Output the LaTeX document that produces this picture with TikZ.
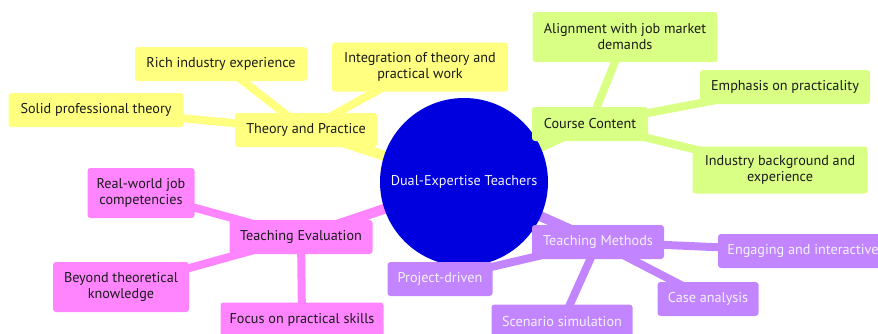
\documentclass[tikz,border=0pt]{standalone}
\usepackage{fontspec}
\setmainfont{PT Sans}
\usetikzlibrary{positioning}
\usetikzlibrary{backgrounds}
\definecolor{rootblue}{HTML}{0000DE}
\definecolor{secyellow}{HTML}{FFFF80}
\definecolor{lineyellow}{HTML}{AAAAFF}
\definecolor{secgreen}{HTML}{D9FF85}
\definecolor{linegreen}{HTML}{CCAAFF}
\definecolor{secpink}{HTML}{FF85FF}
\definecolor{linepink}{HTML}{B8FFB8}
\definecolor{secpurple}{HTML}{C285FF}
\definecolor{linepurple}{HTML}{D6FFB8}
\definecolor{labeldark}{HTML}{1A1A1A}
\definecolor{labellight}{HTML}{F2F2FF}
\newcommand{\mapfont}{\fontsize{14.2}{16}\selectfont}
\tikzset{
  idea/.style={rounded corners=3pt, minimum height=34pt, inner xsep=8pt, inner ysep=4pt,
    align=center, font=\mapfont, text=labeldark},
  underline/.style={append after command={[draw=#1, line width=3pt]
    ([yshift=1.5pt]\tikzlastnode.south west) -- ([yshift=1.5pt]\tikzlastnode.south east)}},
  yellowbox/.style={idea, fill=secyellow, underline=lineyellow},
  greenbox/.style={idea, fill=secgreen, underline=linegreen},
  pinkbox/.style={idea, fill=secpink, underline=linepink},
  purplebox/.style={idea, fill=secpurple, underline=linepurple, text=labellight},
  trunk/.style={draw=#1, line width=10pt},
  twig/.style={draw=#1, line width=8pt}
}

\begin{document}
\begin{tikzpicture}[x=1pt, y=-1pt]
  \useasboundingbox (0,0) rectangle (878,333);
  \clip (0,0) rectangle (878,333);

  % root
  \node[circle, fill=rootblue, minimum size=168pt, inner sep=0pt, font=\mapfont, text=labellight] (ctr) at (464,182) {Dual-Expertise Teachers};

  % theory and practice
  \node[yellowbox, minimum width=142pt] (tp) at (306,130) {Theory and Practice};
  \node[yellowbox, minimum width=172pt] (rich) at (221,64) {Rich industry experience};
  \node[yellowbox, minimum width=175pt] (solid) at (96,110) {Solid professional theory};
  \node[yellowbox, minimum width=176pt, minimum height=49pt] (integ) at (420,67) {Integration of theory and\\practical work};

  % course content
  \node[greenbox, minimum width=116pt] (cc) at (590,124) {Course Content};
  \node[greenbox, minimum width=185pt, minimum height=50pt] (align) at (625,37) {Alignment with job market\\demands};
  \node[greenbox, minimum width=170pt] (emph) at (785,87) {Emphasis on practicality};
  \node[greenbox, minimum width=175pt, minimum height=47pt] (indus) at (780,170) {Industry background and\\experience};

  % teaching evaluation
  \node[pinkbox, minimum width=143pt] (te) at (301,237) {Teaching Evaluation};
  \node[pinkbox, minimum width=107pt, minimum height=50pt] (real) at (141,193) {Real-world job\\competencies};
  \node[pinkbox, minimum width=136pt, minimum height=50pt] (beyond) at (121,287) {Beyond theoretical\\knowledge};
  \node[pinkbox, minimum width=163pt, minimum height=35pt] (focus) at (302,320) {Focus on practical skills};

  % teaching methods
  \node[purplebox, minimum width=132pt] (tm) at (598,242) {Teaching Methods};
  \node[purplebox, minimum width=105pt] (proj) at (440,279) {Project-driven};
  \node[purplebox, minimum width=170pt] (engag) at (803,251) {Engaging and interactive};
  \node[purplebox, minimum width=101pt] (case) at (708,299) {Case analysis};
  \node[purplebox, minimum width=141pt, minimum height=35pt] (scen) at (562,322) {Scenario simulation};

  % branches under the boxes
  \begin{scope}[on background layer]
    \draw[trunk=secyellow] (ctr.center) -- (tp.center);
    \draw[trunk=secgreen] (ctr.center) -- (cc.center);
    \draw[trunk=secpink] (ctr.center) -- (te.center);
    \draw[trunk=secpurple] (ctr.center) -- (tm.center);
    \foreach \leaf in {rich,solid,integ}
      \draw[twig=secyellow] (tp.center) -- (\leaf.center);
    \foreach \leaf in {align,emph,indus}
      \draw[twig=secgreen] (cc.center) -- (\leaf.center);
    \foreach \leaf in {real,beyond,focus}
      \draw[twig=secpink] (te.center) -- (\leaf.center);
    \foreach \leaf in {proj,engag,case,scen}
      \draw[twig=secpurple] (tm.center) -- (\leaf.center);
  \end{scope}
\end{tikzpicture}
\end{document}
